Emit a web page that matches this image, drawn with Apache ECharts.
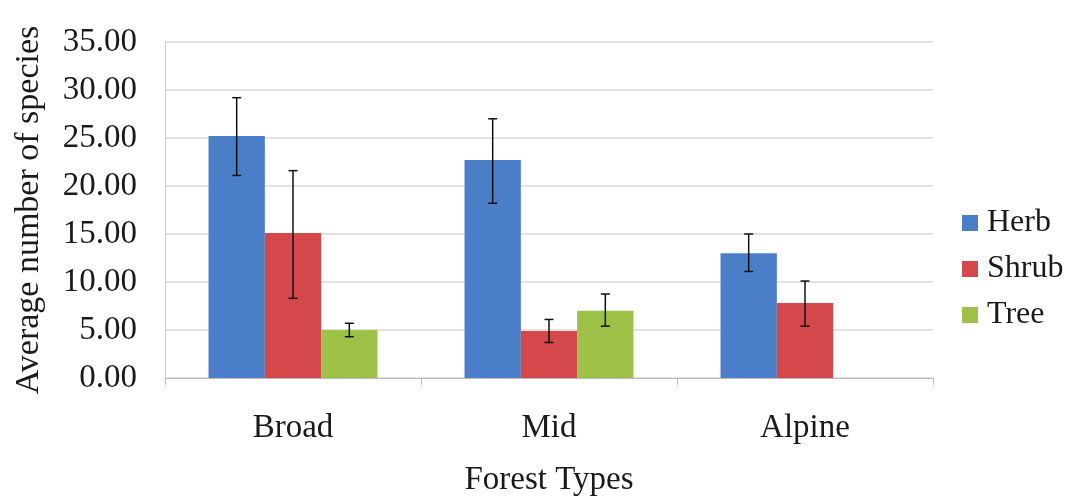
<!DOCTYPE html>
<html><head><meta charset="utf-8">
<script src="https://cdn.jsdelivr.net/npm/echarts@6/dist/echarts.min.js"></script>
<style>html,body{margin:0;padding:0;background:#fff}#c{width:1070px;height:500px}</style>
</head><body><div id="c"></div>
<script>
const categories = ['Broad', 'Mid', 'Alpine'];
const seriesNames = ['Herb', 'Shrub', 'Tree'];
const herb = [25.2, 22.7, 13.0];
const shrub = [15.1, 4.9, 7.8];
const tree = [5.0, 7.0, null];
const herbErrLow = [21.1, 18.2, 11.1];
const herbErrHigh = [29.2, 27.0, 15.0];
const shrubErrLow = [8.3, 3.7, 5.4];
const shrubErrHigh = [21.6, 6.1, 10.1];
const treeErrLow = [4.3, 5.4, null];
const treeErrHigh = [5.7, 8.75, null];
const yTicks = [0, 5, 10, 15, 20, 25, 30, 35];

const colors = ['#4a7ec8', '#d4474a', '#9cc146'];
const values = [herb, shrub, tree];
const errLow = [herbErrLow, shrubErrLow, treeErrLow];
const errHigh = [herbErrHigh, shrubErrHigh, treeErrHigh];
const catGap = 0.34;
const font = '"Liberation Serif", "DejaVu Serif", serif';
const txt = '#1a1a1a';

const series = [];
values.forEach((v, i) => {
  series.push({
    name: seriesNames[i], type: 'bar', data: v, barGap: '0%', barCategoryGap: (catGap*100)+'%',
    itemStyle: { color: colors[i] }
  });
});
values.forEach((v, i) => {
  const data = [];
  categories.forEach((c, k) => { if (errLow[i][k] != null) data.push([k, errLow[i][k], errHigh[i][k]]); });
  series.push({
    type: 'custom', z: 10, silent: true,
    data: data,
    encode: { x: 0, y: [1, 2] },
    renderItem: function (params, api) {
      const k = api.value(0);
      const lo = api.coord([k, api.value(1)]);
      const hi = api.coord([k, api.value(2)]);
      const catW = api.size([1, 0])[0];
      const bw = catW * (1 - catGap) / 3;
      const x = lo[0] + (i - 1) * bw;
      const cap = 4.5;
      const st = { stroke: '#111', lineWidth: 1.5 };
      return { type: 'group', children: [
        { type: 'line', shape: { x1: x, y1: lo[1], x2: x, y2: hi[1] }, style: st },
        { type: 'line', shape: { x1: x - cap, y1: lo[1], x2: x + cap, y2: lo[1] }, style: st },
        { type: 'line', shape: { x1: x - cap, y1: hi[1], x2: x + cap, y2: hi[1] }, style: st }
      ]};
    }
  });
});

const chart = echarts.init(document.getElementById('c'), null, { renderer: 'canvas' });
chart.setOption({
  animation: false,
  backgroundColor: '#fff',
  textStyle: { fontFamily: font },
  grid: { left: 165, right: 137, top: 42, bottom: 122, containLabel: false, outerBoundsMode: 'none' },
  legend: {
    data: seriesNames, orient: 'vertical', left: 957, top: 202, itemGap: 14,
    itemWidth: 16, itemHeight: 16, icon: 'rect',
    textStyle: { fontFamily: font, fontSize: 32, color: txt, padding: [0, 0, 0, 4] }
  },
  xAxis: {
    type: 'category', data: categories,
    name: 'Forest Types', nameLocation: 'middle', nameGap: 86,
    nameTextStyle: { fontFamily: font, fontSize: 33, color: txt },
    axisLine: { lineStyle: { color: '#bbb' } },
    axisTick: { show: true, alignWithLabel: false, length: 7, lineStyle: { color: '#bbb' } },
    axisLabel: { fontFamily: font, fontSize: 33, color: txt, margin: 34 }
  },
  yAxis: {
    type: 'value', min: yTicks[0], max: yTicks[yTicks.length - 1], interval: 5,
    name: 'Average number of species', nameLocation: 'middle', nameGap: 119,
    nameTextStyle: { fontFamily: font, fontSize: 34, color: txt },
    axisLine: { show: true, lineStyle: { color: '#ccc' } },
    axisTick: { show: false },
    axisLabel: { fontFamily: font, fontSize: 33, color: txt, margin: 28,
      formatter: v => v.toFixed(2) },
    splitLine: { lineStyle: { color: '#d9d9d9', width: 1.5 } }
  },
  series: series
});
</script></body></html>
